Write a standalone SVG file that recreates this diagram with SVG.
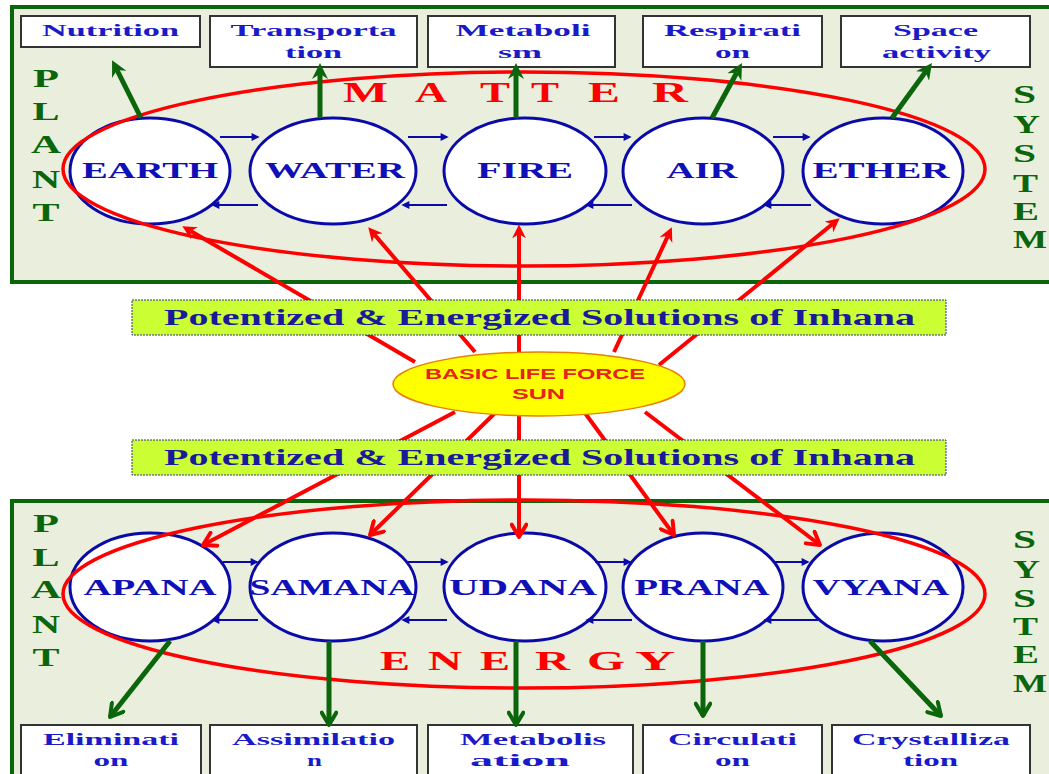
<svg xmlns="http://www.w3.org/2000/svg" width="1049" height="774" viewBox="0 0 1049 774">
<style>
.panel{fill:#E9EEDD;stroke:#0B660B;stroke-width:4}
.box{fill:#FFFFFF;stroke:#333333;stroke-width:2}
.bt{font-family:"Liberation Serif",serif;font-weight:bold;font-size:17px;fill:#1A1AC8;text-anchor:middle}
.node{fill:#FFFFFF;stroke:#0A0AA8;stroke-width:3}
.nt{font-family:"Liberation Serif",serif;font-weight:bold;font-size:23px;fill:#1010B8;text-anchor:middle}
.big{font-family:"Liberation Serif",serif;font-weight:bold;fill:#FF0000}
.side{font-family:"Liberation Serif",serif;font-weight:bold;font-size:25px;fill:#0B660B}
.ring{fill:none;stroke:#FF0000;stroke-width:3.5}
.blue{stroke:#0A0AA8;stroke-width:2;fill:none}
.red{stroke:#FF0000;stroke-width:4;fill:none}
.green{stroke:#0B660B;stroke-width:5;fill:none}
.pot{fill:#CCFF33;stroke:#3030A0;stroke-width:1;stroke-dasharray:2 1}
.pt{font-family:"Liberation Serif",serif;font-weight:bold;font-size:23px;fill:#1A1A9A;text-anchor:middle}
.st{font-family:"Liberation Sans","Open Sans",sans-serif;font-weight:bold;font-size:15px;fill:#E8211A;text-anchor:middle}
</style>
<defs>
<marker id="mBlue" viewBox="0 0 10 10" refX="8" refY="5" markerWidth="9" markerHeight="8" markerUnits="userSpaceOnUse" orient="auto"><path d="M0,0 L10,5 L0,10 Z" fill="#0A0AA8"/></marker>
<marker id="mGreenUp" viewBox="0 0 16 16" refX="5" refY="8" markerWidth="16" markerHeight="16" markerUnits="userSpaceOnUse" orient="auto"><path d="M0,0 L16,8 L0,16 L5,8 Z" fill="#0B660B"/></marker>
<marker id="mGreenDown" viewBox="0 0 16 16" refX="13" refY="8" markerWidth="18" markerHeight="18" markerUnits="userSpaceOnUse" orient="auto"><path d="M2,1.5 L13,8 L2,14.5" fill="none" stroke="#0B660B" stroke-width="3.5" stroke-linecap="round" stroke-linejoin="round"/></marker>
<marker id="mRedUp" viewBox="0 0 16 16" refX="5" refY="8" markerWidth="14" markerHeight="14" markerUnits="userSpaceOnUse" orient="auto"><path d="M0,0 L16,8 L0,16 L5,8 Z" fill="#FF0000"/></marker>
<marker id="mRedDown" viewBox="0 0 16 16" refX="13" refY="8" markerWidth="18" markerHeight="18" markerUnits="userSpaceOnUse" orient="auto"><path d="M2,1.5 L13,8 L2,14.5" fill="none" stroke="#FF0000" stroke-width="3.5" stroke-linecap="round" stroke-linejoin="round"/></marker>
</defs>

<g id="matter-panel">
<rect class="panel" x="12" y="7" width="1050" height="275"/>
<g class="side">
<text x="46" y="87" text-anchor="middle" textLength="26" lengthAdjust="spacingAndGlyphs">P</text>
<text x="46" y="120" text-anchor="middle" textLength="27" lengthAdjust="spacingAndGlyphs">L</text>
<text x="46" y="153" text-anchor="middle" textLength="30" lengthAdjust="spacingAndGlyphs">A</text>
<text x="46" y="188" text-anchor="middle" textLength="28" lengthAdjust="spacingAndGlyphs">N</text>
<text x="46" y="221" text-anchor="middle" textLength="27" lengthAdjust="spacingAndGlyphs">T</text>
<text x="1013" y="103" textLength="23" lengthAdjust="spacingAndGlyphs">S</text>
<text x="1013" y="133" textLength="27" lengthAdjust="spacingAndGlyphs">Y</text>
<text x="1013" y="162" textLength="23" lengthAdjust="spacingAndGlyphs">S</text>
<text x="1013" y="192" textLength="25" lengthAdjust="spacingAndGlyphs">T</text>
<text x="1013" y="220" textLength="26" lengthAdjust="spacingAndGlyphs">E</text>
<text x="1013" y="248" textLength="34" lengthAdjust="spacingAndGlyphs">M</text>
</g>
</g>

<g id="energy-panel">
<rect class="panel" x="12" y="501" width="1050" height="290"/>
<g class="side">
<text x="46" y="532" text-anchor="middle" textLength="26" lengthAdjust="spacingAndGlyphs">P</text>
<text x="46" y="566" text-anchor="middle" textLength="27" lengthAdjust="spacingAndGlyphs">L</text>
<text x="46" y="598" text-anchor="middle" textLength="30" lengthAdjust="spacingAndGlyphs">A</text>
<text x="46" y="633" text-anchor="middle" textLength="28" lengthAdjust="spacingAndGlyphs">N</text>
<text x="46" y="666" text-anchor="middle" textLength="27" lengthAdjust="spacingAndGlyphs">T</text>
<text x="1013" y="548" textLength="23" lengthAdjust="spacingAndGlyphs">S</text>
<text x="1013" y="578" textLength="27" lengthAdjust="spacingAndGlyphs">Y</text>
<text x="1013" y="607" textLength="23" lengthAdjust="spacingAndGlyphs">S</text>
<text x="1013" y="635" textLength="25" lengthAdjust="spacingAndGlyphs">T</text>
<text x="1013" y="663" textLength="26" lengthAdjust="spacingAndGlyphs">E</text>
<text x="1013" y="692" textLength="34" lengthAdjust="spacingAndGlyphs">M</text>
</g>
</g>

<g id="box-nutrition"><rect class="box" x="21" y="16" width="179" height="31"/><text class="bt" x="110.5" y="36" textLength="137" lengthAdjust="spacingAndGlyphs">Nutrition</text></g>
<g id="box-transportation"><rect class="box" x="210" y="16" width="207" height="51"/><text class="bt" x="313.5" y="36" textLength="166" lengthAdjust="spacingAndGlyphs">Transporta</text><text class="bt" x="313.5" y="58" textLength="57" lengthAdjust="spacingAndGlyphs">tion</text></g>
<g id="box-metabolism"><rect class="box" x="428" y="16" width="187" height="51"/><text class="bt" x="523" y="36" textLength="135" lengthAdjust="spacingAndGlyphs">Metaboli</text><text class="bt" x="520" y="58" textLength="44" lengthAdjust="spacingAndGlyphs">sm</text></g>
<g id="box-respiration"><rect class="box" x="643" y="16" width="179" height="51"/><text class="bt" x="732.5" y="36" textLength="137" lengthAdjust="spacingAndGlyphs">Respirati</text><text class="bt" x="732.5" y="58" textLength="35" lengthAdjust="spacingAndGlyphs">on</text></g>
<g id="box-space"><rect class="box" x="841" y="16" width="189" height="51"/><text class="bt" x="935.5" y="36" textLength="85" lengthAdjust="spacingAndGlyphs">Space</text><text class="bt" x="936.5" y="58" textLength="109" lengthAdjust="spacingAndGlyphs">activity</text></g>

<g id="box-elimination"><rect class="box" x="21" y="725" width="180" height="60"/><text class="bt" x="111" y="745" textLength="136" lengthAdjust="spacingAndGlyphs">Eliminati</text><text class="bt" x="111" y="766" textLength="35" lengthAdjust="spacingAndGlyphs">on</text></g>
<g id="box-assimilation"><rect class="box" x="210" y="725" width="207" height="60"/><text class="bt" x="313.5" y="745" textLength="163" lengthAdjust="spacingAndGlyphs">Assimilatio</text><text class="bt" x="314.5" y="766" textLength="15" lengthAdjust="spacingAndGlyphs">n</text></g>
<g id="box-metabolisation"><rect class="box" x="428" y="725" width="205" height="60"/><text class="bt" x="533" y="745" textLength="146" lengthAdjust="spacingAndGlyphs">Metabolis</text><text class="bt" x="520" y="766" textLength="100" lengthAdjust="spacingAndGlyphs">ation</text></g>
<g id="box-circulation"><rect class="box" x="643" y="725" width="179" height="60"/><text class="bt" x="732.5" y="745" textLength="129" lengthAdjust="spacingAndGlyphs">Circulati</text><text class="bt" x="732.5" y="766" textLength="35" lengthAdjust="spacingAndGlyphs">on</text></g>
<g id="box-crystallization"><rect class="box" x="832" y="725" width="198" height="60"/><text class="bt" x="931" y="745" textLength="158" lengthAdjust="spacingAndGlyphs">Crystalliza</text><text class="bt" x="930.5" y="766" textLength="55" lengthAdjust="spacingAndGlyphs">tion</text></g>

<g id="node-earth"><ellipse class="node" cx="150" cy="171" rx="80" ry="53"/></g>
<g id="node-water"><ellipse class="node" cx="333" cy="171" rx="83" ry="53"/></g>
<g id="node-fire"><ellipse class="node" cx="525" cy="171" rx="81" ry="53"/></g>
<g id="node-air"><ellipse class="node" cx="703" cy="171" rx="80" ry="53"/></g>
<g id="node-ether"><ellipse class="node" cx="883" cy="171" rx="80" ry="53"/></g>
<g id="node-apana"><ellipse class="node" cx="150" cy="587" rx="80" ry="54"/></g>
<g id="node-samana"><ellipse class="node" cx="333" cy="587" rx="83" ry="54"/></g>
<g id="node-udana"><ellipse class="node" cx="525" cy="587" rx="81" ry="54"/></g>
<g id="node-prana"><ellipse class="node" cx="703" cy="587" rx="80" ry="54"/></g>
<g id="node-vyana"><ellipse class="node" cx="883" cy="587" rx="80" ry="54"/></g>

<g id="connectors">
<g class="blue" marker-end="url(#mBlue)">
<line x1="220" y1="137" x2="258" y2="137"/><line x1="258" y1="205" x2="213" y2="205"/>
<line x1="408" y1="137" x2="447" y2="137"/><line x1="447" y1="205" x2="403" y2="205"/>
<line x1="594" y1="137" x2="630" y2="137"/><line x1="632" y1="205" x2="587" y2="205"/>
<line x1="773" y1="137" x2="809" y2="137"/><line x1="811" y1="205" x2="765" y2="205"/>
<line x1="223" y1="562" x2="257" y2="562"/><line x1="258" y1="620" x2="213" y2="620"/>
<line x1="408" y1="562" x2="447" y2="562"/><line x1="447" y1="620" x2="403" y2="620"/>
<line x1="595" y1="562" x2="630" y2="562"/><line x1="632" y1="620" x2="587" y2="620"/>
<line x1="773" y1="562" x2="808" y2="562"/><line x1="818" y1="620" x2="765" y2="620"/>
</g>
<ellipse class="ring" cx="524" cy="169" rx="461" ry="97"/>
<ellipse class="ring" cx="524" cy="594" rx="461" ry="94"/>
<g class="red" marker-end="url(#mRedUp)">
<line x1="415" y1="362" x2="190.6" y2="231"/>
<line x1="475" y1="352" x2="374.5" y2="234.6"/>
<line x1="519" y1="352" x2="519" y2="234"/>
<line x1="614" y1="352" x2="667.8" y2="236.1"/>
<line x1="659" y1="365" x2="832.2" y2="224.3"/>
</g>
<g class="red" marker-end="url(#mRedDown)">
<line x1="455" y1="412" x2="203" y2="545"/>
<line x1="495" y1="413" x2="370" y2="535"/>
<line x1="519" y1="415" x2="519" y2="537"/>
<line x1="585" y1="413" x2="674" y2="535"/>
<line x1="645" y1="412" x2="820" y2="545"/>
</g>
<g class="green" marker-end="url(#mGreenUp)">
<line x1="141" y1="118" x2="117" y2="70"/>
<line x1="320" y1="118" x2="320" y2="74"/>
<line x1="516" y1="118" x2="516" y2="74"/>
<line x1="712" y1="118" x2="736.7" y2="72.7"/>
<line x1="892" y1="118" x2="925.5" y2="71.9"/>
</g>
<g class="green" marker-end="url(#mGreenDown)">
<line x1="170" y1="641" x2="110" y2="717"/>
<line x1="329" y1="641" x2="329" y2="725"/>
<line x1="516" y1="641" x2="516" y2="725"/>
<line x1="703" y1="641" x2="703" y2="716"/>
<line x1="870" y1="641" x2="941" y2="716"/>
</g>
</g>

<g id="node-labels">
<text class="nt" x="150" y="178" textLength="136" lengthAdjust="spacingAndGlyphs">EARTH</text>
<text class="nt" x="335" y="178" textLength="140" lengthAdjust="spacingAndGlyphs">WATER</text>
<text class="nt" x="525" y="178" textLength="96" lengthAdjust="spacingAndGlyphs">FIRE</text>
<text class="nt" x="702" y="178" textLength="71" lengthAdjust="spacingAndGlyphs">AIR</text>
<text class="nt" x="881" y="178" textLength="137" lengthAdjust="spacingAndGlyphs">ETHER</text>
<text class="nt" x="150" y="595" textLength="133" lengthAdjust="spacingAndGlyphs">APANA</text>
<text class="nt" x="332" y="595" textLength="165" lengthAdjust="spacingAndGlyphs">SAMANA</text>
<text class="nt" x="523" y="595" textLength="148" lengthAdjust="spacingAndGlyphs">UDANA</text>
<text class="nt" x="702" y="595" textLength="135" lengthAdjust="spacingAndGlyphs">PRANA</text>
<text class="nt" x="881" y="595" textLength="137" lengthAdjust="spacingAndGlyphs">VYANA</text>
</g>

<g id="matter-label" class="big" font-size="30">
<text x="343" y="102" textLength="45" lengthAdjust="spacingAndGlyphs">M</text>
<text x="415" y="102" textLength="32" lengthAdjust="spacingAndGlyphs">A</text>
<text x="480" y="102" textLength="30" lengthAdjust="spacingAndGlyphs">T</text>
<text x="531" y="102" textLength="28" lengthAdjust="spacingAndGlyphs">T</text>
<text x="588" y="102" textLength="32" lengthAdjust="spacingAndGlyphs">E</text>
<text x="652" y="102" textLength="36" lengthAdjust="spacingAndGlyphs">R</text>
</g>
<g id="energy-label" class="big" font-size="28">
<text x="380" y="670" textLength="30" lengthAdjust="spacingAndGlyphs">E</text>
<text x="428" y="670" textLength="34" lengthAdjust="spacingAndGlyphs">N</text>
<text x="480" y="670" textLength="30" lengthAdjust="spacingAndGlyphs">E</text>
<text x="535" y="670" textLength="35" lengthAdjust="spacingAndGlyphs">R</text>
<text x="587" y="670" textLength="38" lengthAdjust="spacingAndGlyphs">G</text>
<text x="635" y="670" textLength="40" lengthAdjust="spacingAndGlyphs">Y</text>
</g>

<g id="solutions-top"><rect class="pot" x="132" y="300" width="814" height="35"/><text class="pt" x="539.5" y="325" textLength="751" lengthAdjust="spacingAndGlyphs">Potentized &amp; Energized Solutions of Inhana</text></g>
<g id="solutions-bottom"><rect class="pot" x="132" y="440" width="814" height="35"/><text class="pt" x="539.5" y="465" textLength="751" lengthAdjust="spacingAndGlyphs">Potentized &amp; Energized Solutions of Inhana</text></g>

<g id="sun">
<ellipse cx="539" cy="384" rx="146" ry="32" fill="#FFFF00" stroke="#E88000" stroke-width="1.5"/>
<text class="st" x="535" y="379" textLength="220" lengthAdjust="spacingAndGlyphs">BASIC LIFE FORCE</text>
<text class="st" x="538.5" y="399" textLength="53" lengthAdjust="spacingAndGlyphs">SUN</text>
</g>
</svg>
